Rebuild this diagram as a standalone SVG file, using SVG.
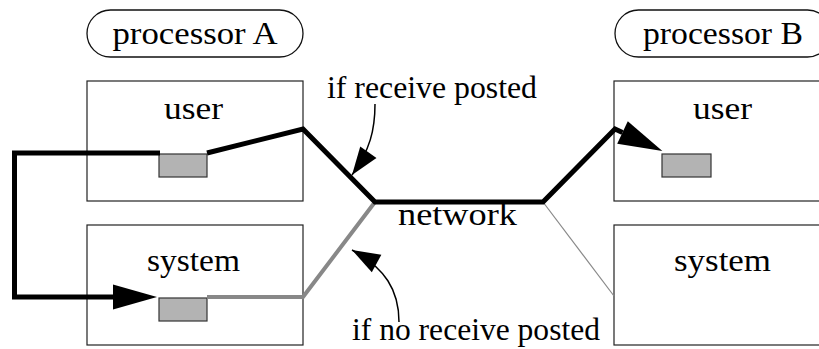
<svg xmlns="http://www.w3.org/2000/svg" width="819" height="349" viewBox="0 0 819 349">
  <style>
    .box { fill: #ffffff; stroke: #222222; stroke-width: 1.2; }
    .pill { fill: #ffffff; stroke: #111111; stroke-width: 1.3; }
    .buf { fill: #b3b3b3; stroke: #333333; stroke-width: 1.2; }
    text { font-family: 'Liberation Serif', 'Times New Roman', serif; font-size: 31px; fill: #000000; }
    .mid { text-anchor: middle; }
    .msg { fill: none; stroke: #000000; stroke-width: 5; stroke-linejoin: miter; stroke-miterlimit: 6; }
    .sys { fill: none; stroke: #888888; stroke-width: 4; stroke-linejoin: miter; }
    .thin { fill: none; stroke: #888888; stroke-width: 1.2; }
    .pointer { fill: none; stroke: #000000; stroke-width: 1.5; }
  </style>
  <defs>
    <marker id="bigHead" markerUnits="userSpaceOnUse" markerWidth="44" markerHeight="25" refX="0" refY="12.5" orient="auto" overflow="visible">
      <path d="M0,0 L44,12.5 L0,25 z" fill="#000000"/>
    </marker>
    <marker id="smallHead" markerUnits="userSpaceOnUse" markerWidth="28" markerHeight="20" refX="28" refY="10" orient="auto" overflow="visible">
      <path d="M0,0 L28,10 L0,20 z" fill="#000000"/>
    </marker>
  </defs>

  <!-- processor A -->
  <g id="procA">
    <rect class="pill" x="87" y="10" width="216" height="47" rx="23.5" ry="23.5"/>
    <text class="mid" x="195" y="44" textLength="165" lengthAdjust="spacingAndGlyphs">processor A</text>
  </g>
  <g id="userA">
    <rect class="box" x="87" y="81" width="216" height="120"/>
    <text class="mid" x="193.5" y="119" textLength="59" lengthAdjust="spacingAndGlyphs">user</text>
    <rect class="buf" x="159" y="154" width="48" height="23"/>
  </g>
  <g id="systemA">
    <rect class="box" x="87" y="225" width="216" height="120"/>
    <text class="mid" x="193.5" y="271" textLength="93" lengthAdjust="spacingAndGlyphs">system</text>
    <rect class="buf" x="159" y="298" width="48" height="23"/>
  </g>

  <!-- processor B -->
  <g id="procB">
    <rect class="pill" x="615" y="10" width="216" height="47" rx="23.5" ry="23.5"/>
    <text class="mid" x="723" y="44" textLength="160" lengthAdjust="spacingAndGlyphs">processor B</text>
  </g>
  <g id="userB">
    <rect class="box" x="614" y="81" width="216" height="120"/>
    <text class="mid" x="722.5" y="119" textLength="59" lengthAdjust="spacingAndGlyphs">user</text>
    <rect class="buf" x="662" y="154" width="49" height="23"/>
  </g>
  <g id="systemB">
    <rect class="box" x="614" y="225" width="216" height="120"/>
    <text class="mid" x="722.5" y="271" textLength="97" lengthAdjust="spacingAndGlyphs">system</text>
  </g>

  <!-- network and condition labels -->
  <g id="network">
    <text x="398" y="225" textLength="119" lengthAdjust="spacingAndGlyphs">network</text>
  </g>
  <g id="labelPosted">
    <text x="327" y="98" textLength="210" lengthAdjust="spacingAndGlyphs">if receive posted</text>
  </g>
  <g id="labelNotPosted">
    <text x="352" y="340" textLength="248" lengthAdjust="spacingAndGlyphs">if no receive posted</text>
  </g>

  <!-- connectors -->
  <g id="connectors">
    <!-- system-buffer path into the network -->
    <path class="sys" d="M207,297 L303,297 L375,202"/>
    <!-- thin path to processor B system -->
    <path class="thin" d="M543,202 L614,296"/>
    <!-- posted receive: user A through the network to user B -->
    <path class="msg" d="M207,153 L303,129 L375,202 L543,202 L615,129 L622.5,132.5" marker-end="url(#bigHead)"/>
    <!-- local copy: user buffer to system buffer -->
    <path class="msg" d="M160,153 L14.5,153 L14.5,297 L113,297" marker-end="url(#bigHead)"/>
    <!-- label pointers -->
    <path class="pointer" d="M375,104 C375,130 370,150 352,175" marker-end="url(#smallHead)"/>
    <path class="pointer" d="M399,322 C399,290 385,268 352,250" marker-end="url(#smallHead)"/>
  </g>
</svg>
